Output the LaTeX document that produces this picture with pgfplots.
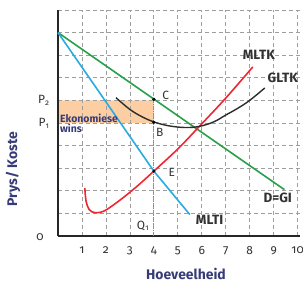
\documentclass[border=0pt]{standalone}
\usepackage{fontspec}
\setmainfont{Fira Sans}[Numbers=OldStyle]
\usepackage{pgfplots}
\pgfplotsset{compat=1.18}
\definecolor{cgreen}{RGB}{40,160,75}
\definecolor{cblue}{RGB}{41,171,226}
\definecolor{cred}{RGB}{237,40,50}
\definecolor{cblack}{RGB}{45,45,45}
\definecolor{corange}{RGB}{252,206,162}
\definecolor{labblue}{RGB}{55,60,120}
\definecolor{txt}{RGB}{50,50,50}
\begin{document}
\begin{tikzpicture}
\begin{axis}[
  at={(58bp,49bp)}, anchor=south west,
  scale only axis, width=242bp, height=226bp,
  xmin=0, xmax=10.1, ymin=0, ymax=10,
  axis lines=left,
  axis line style={-, line width=1.8bp, color=black!85},
  set layers, clip=false,
  xtick={1,...,10}, ytick={1,...,10},
  yticklabels={{},{},{},{},P\textsubscript{1},P\textsubscript{2},{},{},{},{}},
  major tick length=0pt,
  grid=major,
  grid style={dash pattern=on 4bp off 3bp, color=black!38, line width=0.7bp},
  /pgf/number format/assume math mode=true,
  tick label style={font=\fontsize{12}{12}\selectfont, text=txt},
  xticklabel style={yshift=-7bp},
  yticklabel style={xshift=-5bp},
]
% economic profit area
\addplot[fill=corange, draw=none, on layer=axis background] coordinates {(0,5)(4,5)(4,6)(0,6)(0,5)};
% Q1 dotted line
\addplot[densely dotted, black!45, line width=0.8bp] coordinates {(4,0)(4,6)};
% D = GI
\addplot[cgreen, line width=1.6bp] coordinates {(0,9)(9.45,2.05)};
% MLTI
\addplot[cblue, line width=1.6bp] coordinates {(0,9)(4,2.87)(5.5,0.95)};
% MLTK
\addplot[cred, line width=1.6bp, smooth, tension=0.55] coordinates {
 (1.12,2.12)(1.17,1.55)(1.3,1.17)(1.55,1.03)(1.95,1.12)(2.6,1.6)(3.3,2.2)(4,2.87)(5,3.85)(5.9,4.85)(7,6.1)(8.13,7.48)};
% GLTK
\addplot[cblack, line width=1.4bp, smooth, tension=0.6] coordinates {
 (2.42,6.12)(3,5.6)(3.5,5.28)(4,5.05)(4.6,4.88)(5.3,4.8)(5.9,4.85)(6.5,5.05)(7,5.35)(7.5,5.65)(8,6.0)(8.63,6.55)};
% points
\addplot[only marks, mark=*, mark size=1.4bp, black] coordinates {(4,6.05)(4,5.03)(4,2.87)};
% labels
\node[font=\fontsize{12}{12}\selectfont, text=txt] at (axis cs:4.5,6.2) {C};
\node[font=\fontsize{12}{12}\selectfont, text=txt] at (axis cs:4.25,4.6) {B};
\node[font=\fontsize{12}{12}\selectfont, text=txt] at (axis cs:4.75,2.83) {E};
\node[font=\fontsize{12}{12}\selectfont, text=txt] at (axis cs:3.55,0.45) {Q\textsubscript{1}};
\node[font=\bfseries\fontsize{13.5}{13.5}\selectfont, text=txt] at (axis cs:8.38,8.0) {MLTK};
\node[font=\bfseries\fontsize{13.5}{13.5}\selectfont, text=txt] at (axis cs:9.38,7.0) {GLTK};
\node[font=\bfseries\fontsize{13.5}{13.5}\selectfont, text=txt] at (axis cs:9.17,1.68) {D=GI};
\node[font=\bfseries\fontsize{13.5}{13.5}\selectfont, text=txt] at (axis cs:6.33,0.71) {MLTI};
\node[font=\bfseries\fontsize{10.5}{10.5}\selectfont, text=labblue, anchor=west, inner sep=0pt] at (axis cs:0.08,5.22) {Ekonomiese};
\node[font=\bfseries\fontsize{10.5}{10.5}\selectfont, text=labblue, anchor=west, inner sep=0pt] at (axis cs:0.08,4.75) {wins};
\end{axis}
\node[font=\fontsize{12}{12}\selectfont, text=txt] at (40bp,48bp) {0};
\node[font=\bfseries\fontsize{14}{14}\selectfont, text=labblue, rotate=90] at (13bp,116bp) {Prys/ Koste};
\node[font=\bfseries\fontsize{14}{14}\selectfont, text=labblue] at (186bp,11bp) {Hoeveelheid};
\pgfresetboundingbox
\path[use as bounding box] (0bp,0bp) rectangle (303bp,285bp);
\end{tikzpicture}
\end{document}
